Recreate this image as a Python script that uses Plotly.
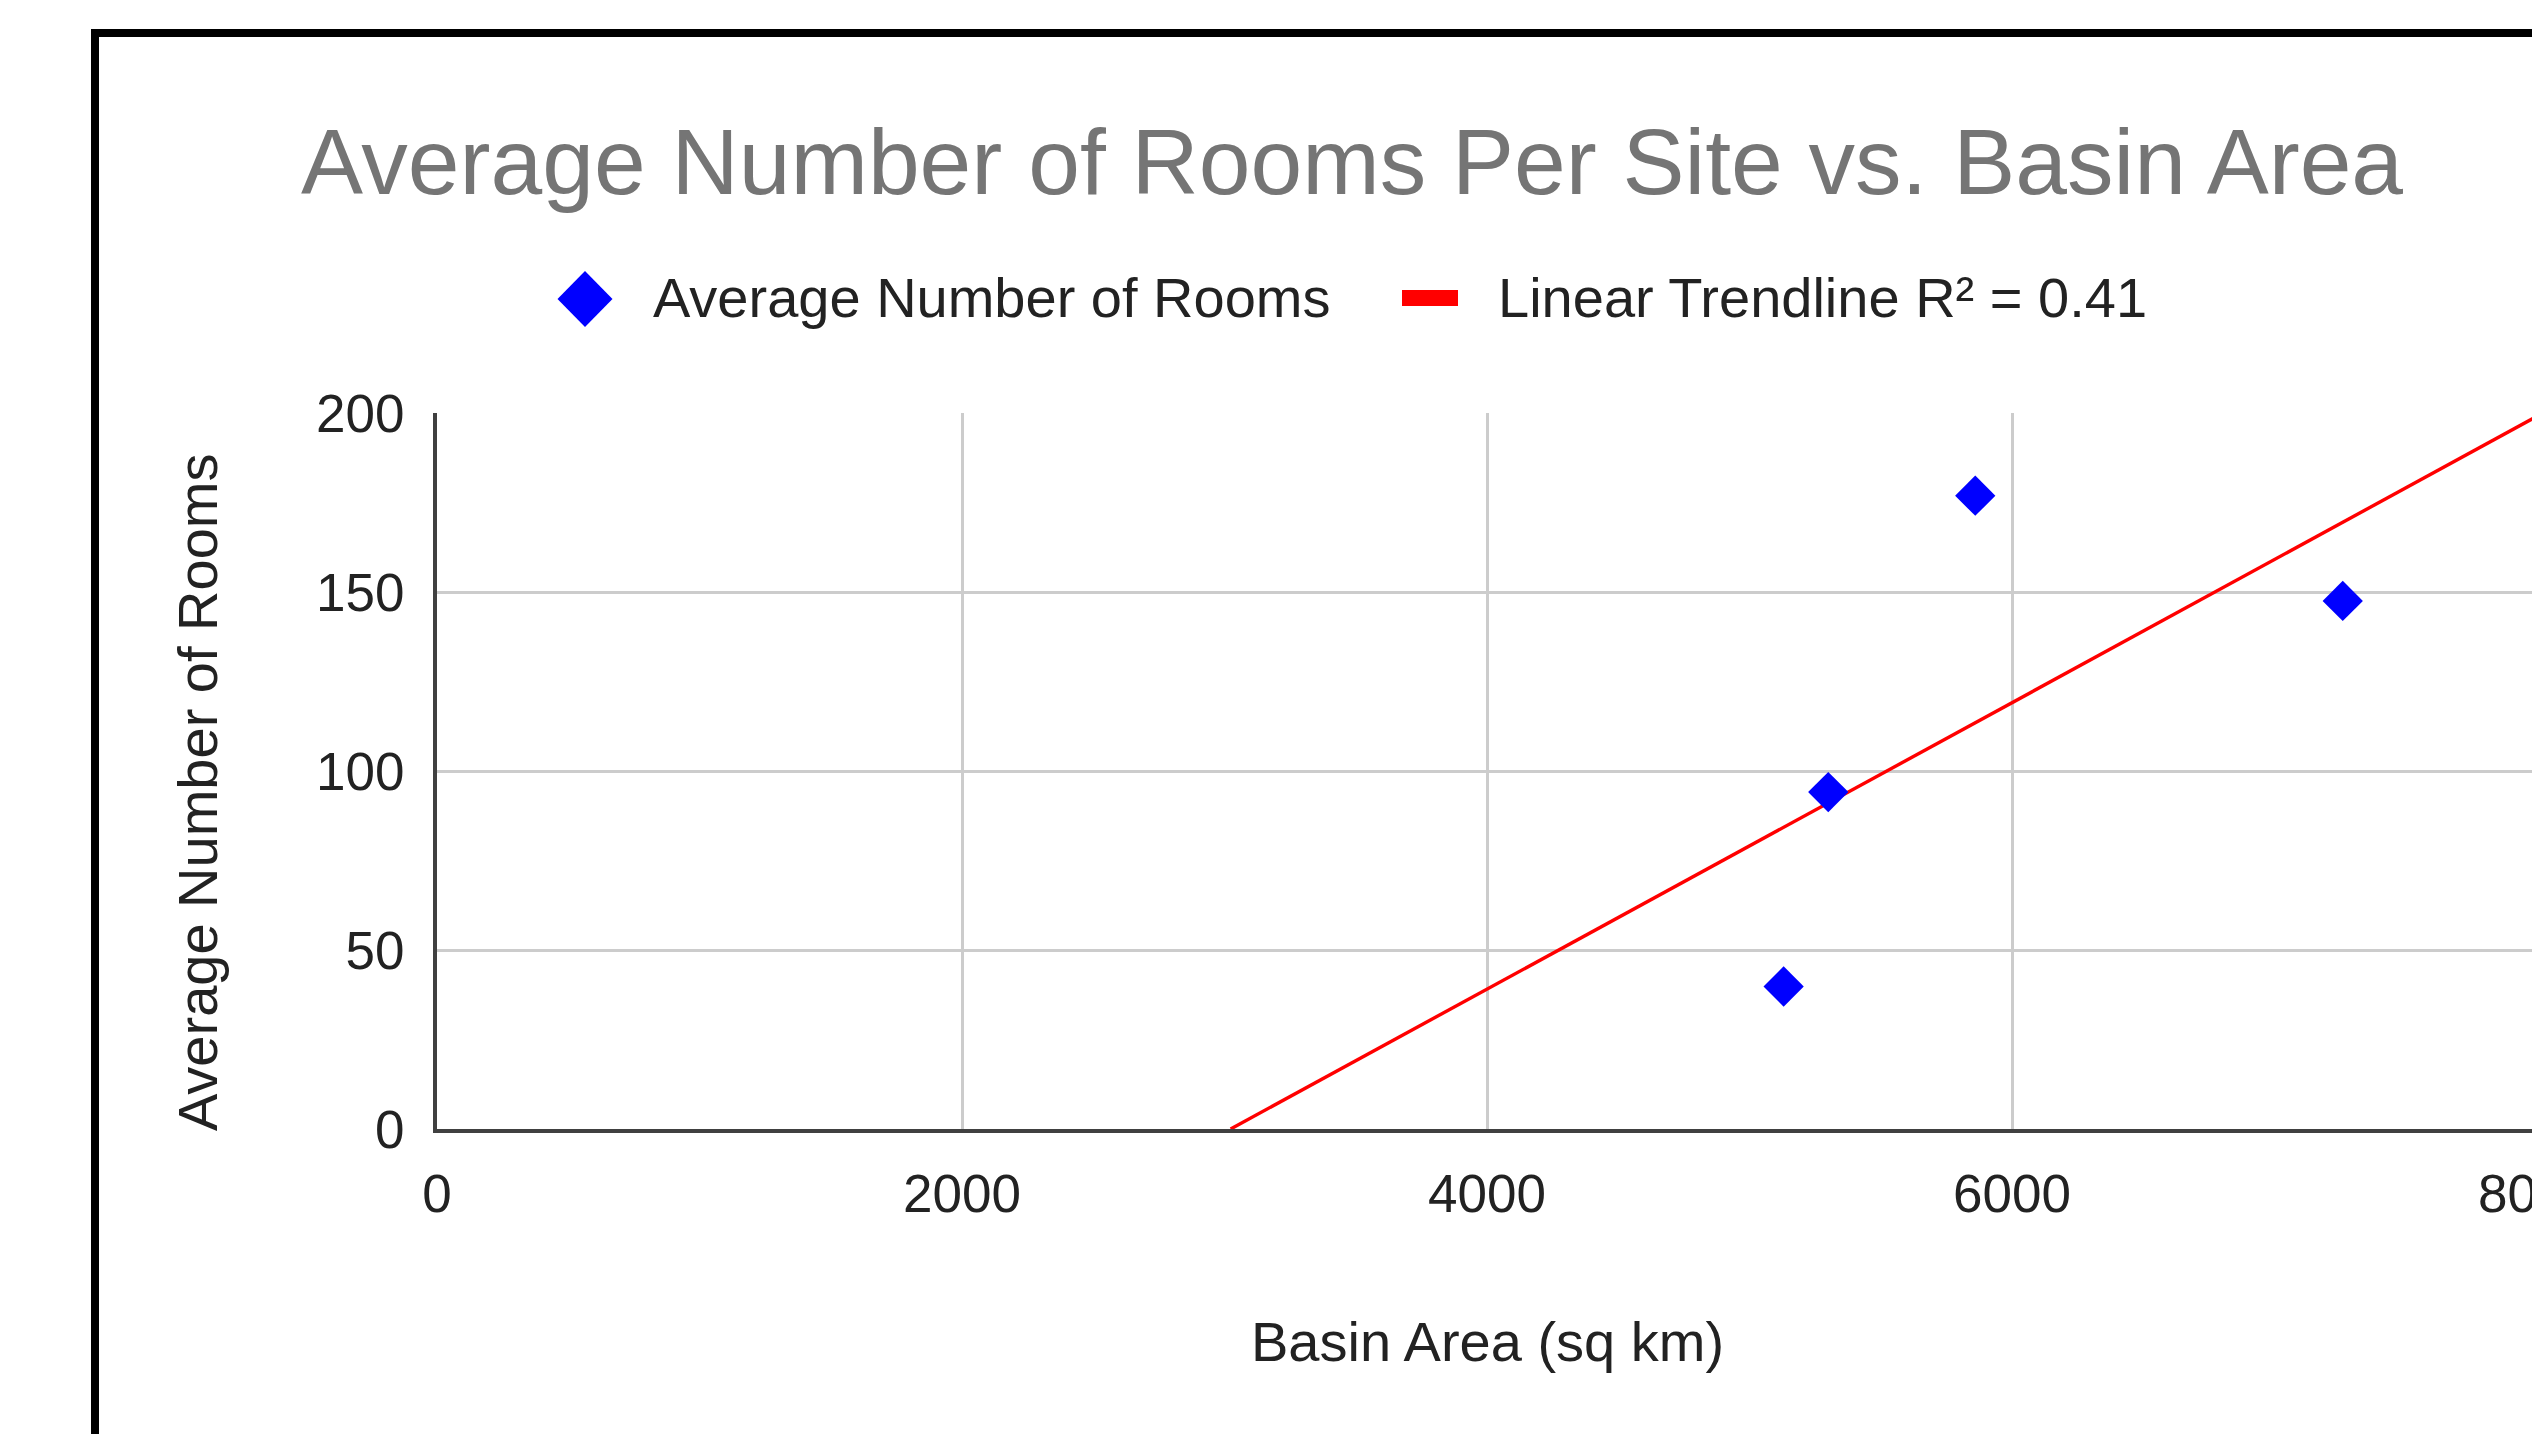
import numpy as np
import plotly.graph_objects as go

# ---- data ----
basin_area = [5130, 5300, 5860, 7260]          # sq km
avg_rooms = [39.8, 94.1, 176.9, 147.5]         # average number of rooms
x_ticks = [0, 2000, 4000, 6000, 8000]
y_ticks = [0, 50, 100, 150, 200]
series_name = "Average Number of Rooms"
trend_name = "Linear Trendline R\u00b2 = 0.41"

# ---- linear trendline fitted from the data ----
slope, intercept = np.polyfit(basin_area, avg_rooms, 1)
x_zero = -intercept / slope
trend_x = [x_zero, x_ticks[-1]]
trend_y = [slope * v + intercept for v in trend_x]

# the page body has an 8px default margin: size the figure to fit the window
OFF = 8
W, H = 2540 - OFF, 1434 - OFF
# plot area in page pixels
L, R, T, B = 437, 2537, 413, 1129
FONT = "Liberation Sans, Arial, sans-serif"


def px(xp):
    return (xp - L) / (R - L)


def py(yp):
    return (B - yp) / (B - T)


fig = go.Figure()
fig.add_trace(go.Scatter(
    x=trend_x, y=trend_y, mode="lines", name=trend_name,
    line=dict(color="#ff0000", width=3.4), showlegend=False, hoverinfo="skip"))
fig.add_trace(go.Scatter(
    x=basin_area, y=avg_rooms, mode="markers", name=series_name,
    marker=dict(symbol="diamond", size=31, color="#0000ff", line=dict(width=0)),
    showlegend=False, cliponaxis=False))

axis_common = dict(
    showgrid=True, gridcolor="#cccccc", gridwidth=3,
    zeroline=False, showline=True, linecolor="#404040", linewidth=4,
    ticks="", tickfont=dict(family=FONT, size=53, color="#222222"),
    ticklabeloverflow="allow",
)

fig.update_xaxes(range=[x_ticks[0], x_ticks[-1]], tickvals=x_ticks,
                 ticklabelstandoff=15, **axis_common)
fig.update_yaxes(range=[y_ticks[0], y_ticks[-1]], tickvals=y_ticks,
                 ticklabelstandoff=18, **axis_common)

annotations = [
    # chart title
    dict(text="Average Number of Rooms Per Site vs. Basin Area",
         x=px(1352), y=py(162), xref="paper", yref="paper",
         xanchor="center", yanchor="middle", showarrow=False,
         font=dict(family=FONT, size=93, color="#757575")),
    # legend texts
    dict(text=series_name, x=px(651), y=py(298), xref="paper", yref="paper",
         xanchor="left", yanchor="middle", showarrow=False,
         font=dict(family=FONT, size=56, color="#222222")),
    dict(text=trend_name, x=px(1496), y=py(298), xref="paper", yref="paper",
         xanchor="left", yanchor="middle", showarrow=False,
         font=dict(family=FONT, size=56, color="#222222")),
    # axis titles
    dict(text="Basin Area (sq km)", x=0.5, y=py(1341), xref="paper", yref="paper",
         xanchor="center", yanchor="middle", showarrow=False,
         font=dict(family=FONT, size=56, color="#222222")),
    dict(text="Average Number of Rooms", x=px(197), y=py(792), xref="paper", yref="paper",
         xanchor="center", yanchor="middle", showarrow=False, textangle=-90,
         font=dict(family=FONT, size=56, color="#222222")),
]

shapes = [
    # outer black frame (extends past the right and bottom edges)
    dict(type="rect", xref="paper", yref="paper",
         x0=px(95), x1=px(2700), y0=py(1600), y1=py(33),
         line=dict(color="#000000", width=8), fillcolor="rgba(0,0,0,0)", layer="above"),
    # legend symbol: blue diamond
    dict(type="path", xref="paper", yref="paper", xsizemode="pixel", ysizemode="pixel",
         xanchor=px(585), yanchor=py(299),
         path="M -27.5 0 L 0 28 L 27.5 0 L 0 -28 Z",
         fillcolor="#0000ff", line=dict(width=0)),
    # legend symbol: red bar
    dict(type="rect", xref="paper", yref="paper", xsizemode="pixel", ysizemode="pixel",
         xanchor=px(1430), yanchor=py(298),
         x0=-28, x1=28, y0=-8, y1=8,
         fillcolor="#ff0000", line=dict(width=0)),
]

fig.update_layout(
    width=W, height=H,
    margin=dict(l=L - OFF, r=W - (R - OFF), t=T - OFF, b=H - (B - OFF), autoexpand=False),
    paper_bgcolor="#ffffff", plot_bgcolor="#ffffff",
    showlegend=False,
    annotations=annotations, shapes=shapes,
    font=dict(family=FONT),
)

fig.write_html("out.html")
